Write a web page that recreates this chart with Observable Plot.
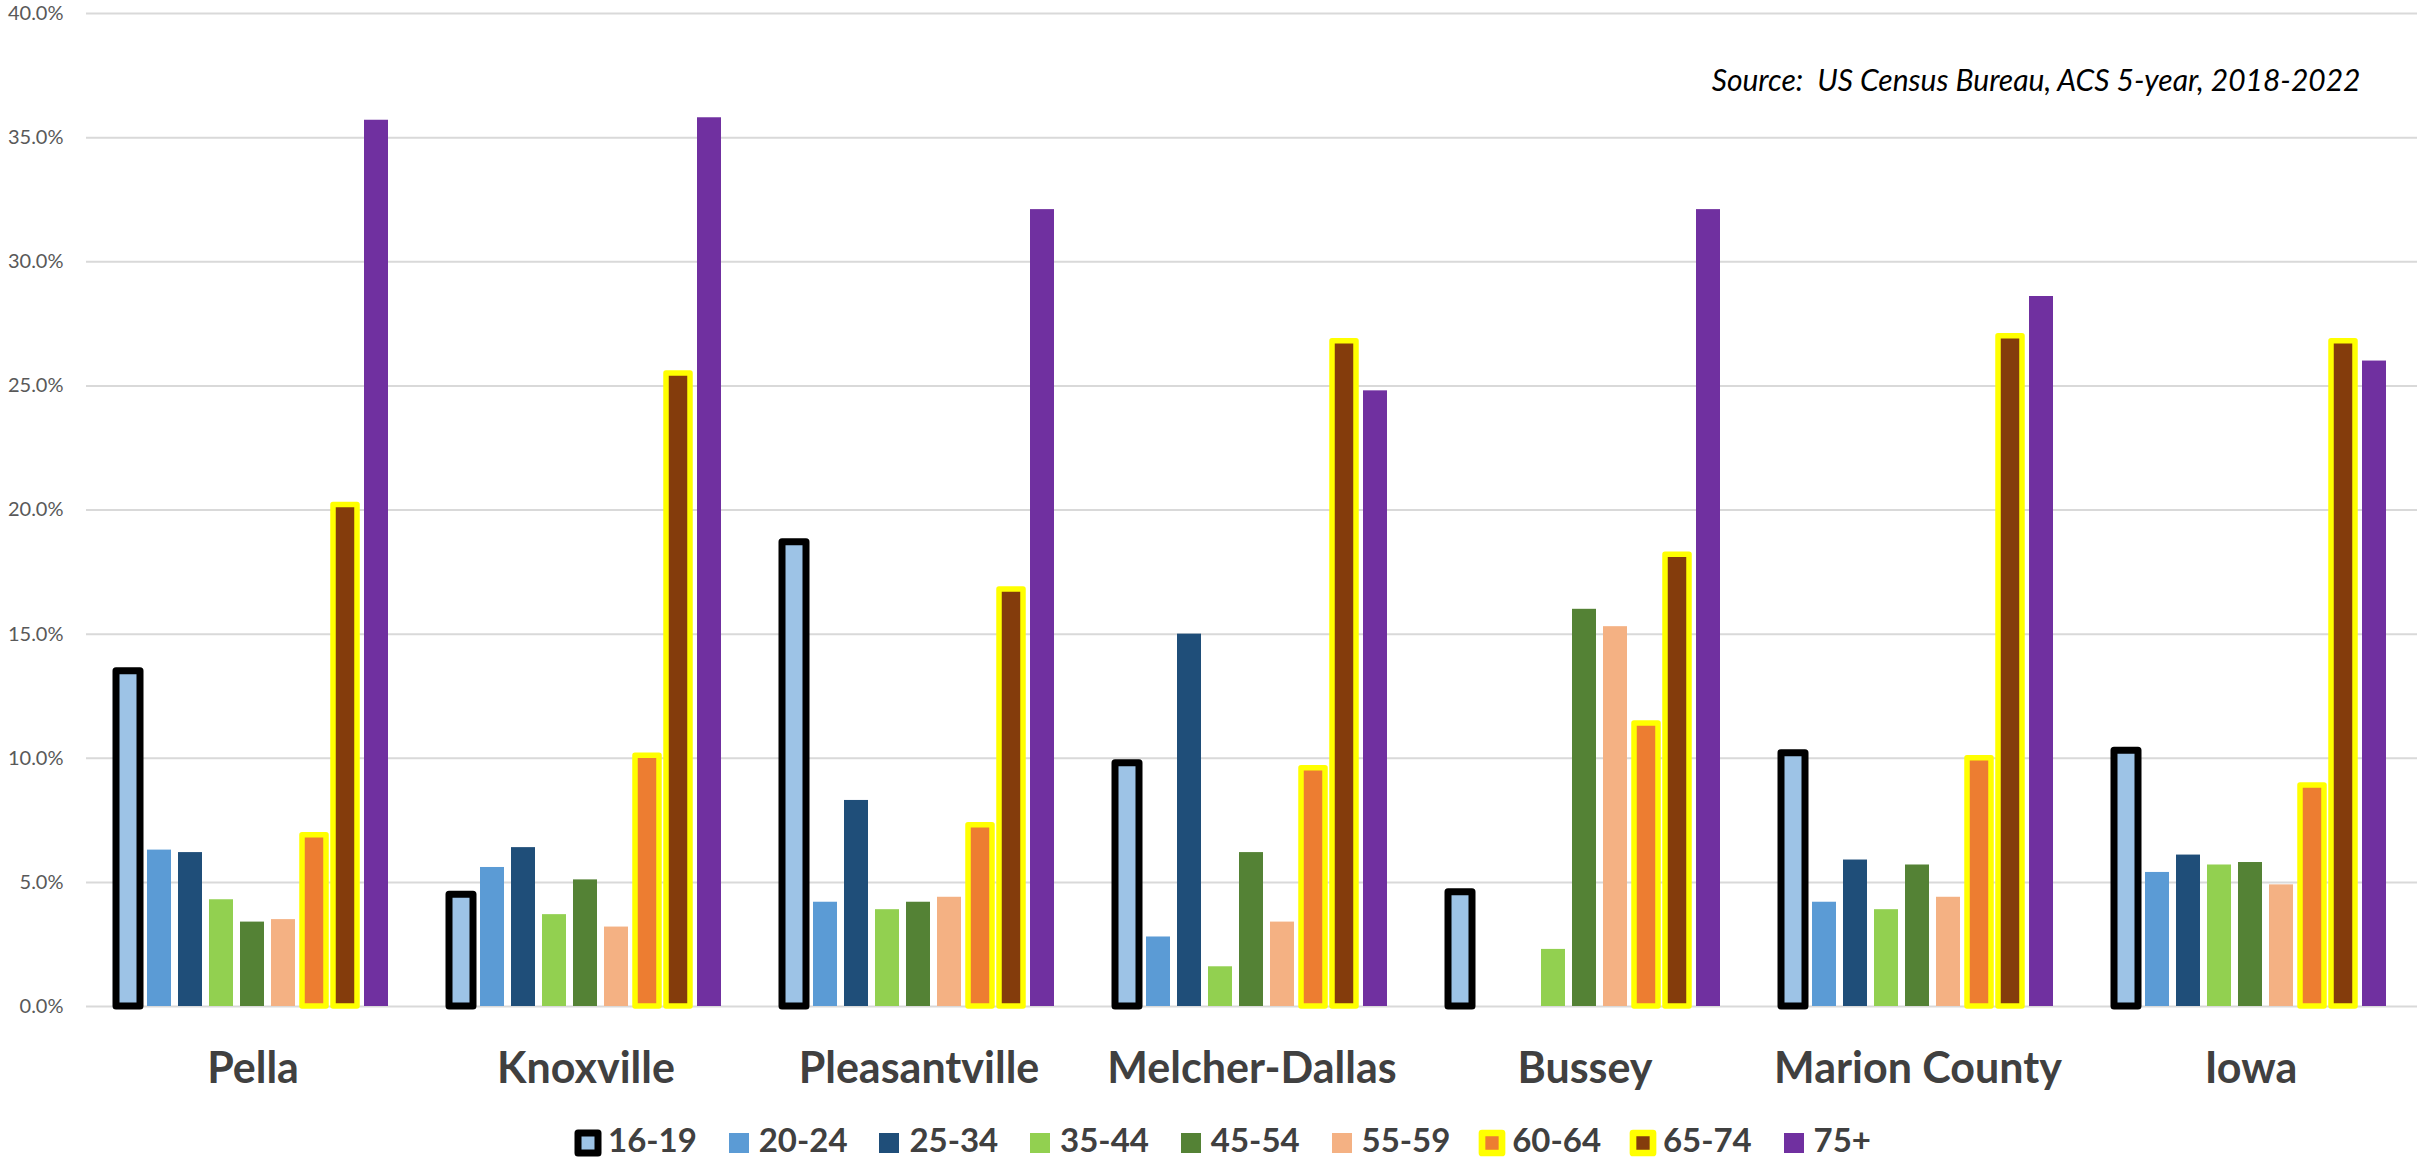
<!DOCTYPE html>
<html>
<head>
<meta charset="utf-8">
<script src="https://cdn.jsdelivr.net/npm/d3@7"></script>
<script src="https://cdn.jsdelivr.net/npm/@observablehq/plot@0.6"></script>
<style>
  html, body { margin: 0; padding: 0; background: #fff; overflow: hidden; }
  #wrap { position: relative; width: 2417px; height: 1163px; font-family: Lato, "Open Sans", sans-serif; }
  #legend { position: absolute; left: 0; top: 1100px; width: 2417px; height: 63px; }
  .item { position: absolute; top: 0; height: 63px; }
  .item svg { position: absolute; left: 0; top: 33px; overflow: visible; }
  .item span { position: absolute; left: 30px; top: 19px; font-weight: bold; font-size: 33px; color: #404040; white-space: nowrap; line-height: 40px; }
</style>
</head>
<body>
<div id="wrap"><div id="chart"></div><div id="legend"></div></div>
<script>
const cities = ["Pella", "Knoxville", "Pleasantville", "Melcher-Dallas", "Bussey", "Marion County", "Iowa"];
const ages = ["16-19", "20-24", "25-34", "35-44", "45-54", "55-59", "60-64", "65-74", "75+"];
const colors = ["#9dc3e6", "#5b9bd5", "#1f4e79", "#92d050", "#548235", "#f4b183", "#ed7d31", "#843c0c", "#7030a0"];
const outlineColors = ["#000000", null, null, null, null, null, "#ffff00", "#ffff00", null];

const v16_19 = [13.5, 4.5, 18.7, 9.8, 4.6, 10.2, 10.3];
const v20_24 = [6.3, 5.6, 4.2, 2.8, 0, 4.2, 5.4];
const v25_34 = [6.2, 6.4, 8.3, 15.0, 0, 5.9, 6.1];
const v35_44 = [4.3, 3.7, 3.9, 1.6, 2.3, 3.9, 5.7];
const v45_54 = [3.4, 5.1, 4.2, 6.2, 16.0, 5.7, 5.8];
const v55_59 = [3.5, 3.2, 4.4, 3.4, 15.3, 4.4, 4.9];
const v60_64 = [6.9, 10.1, 7.3, 9.6, 11.4, 10.0, 8.9];
const v65_74 = [20.2, 25.5, 16.8, 26.8, 18.2, 27.0, 26.8];
const v75p   = [35.7, 35.8, 32.1, 24.8, 32.1, 28.6, 26.0];

const yTicks = [0, 5, 10, 15, 20, 25, 30, 35, 40];
const sourceNote = "Source:\u00a0 US Census Bureau, ACS 5-year, 2018-2022";

const series = [v16_19, v20_24, v25_34, v35_44, v45_54, v55_59, v60_64, v65_74, v75p];
const data = [];
cities.forEach((c, ci) => ages.forEach((a, ai) => data.push({city: c, age: a, value: series[ai][ci]})));

const blackAges = ages.filter((a, i) => outlineColors[i] === "#000000");
const yellowAges = ages.filter((a, i) => outlineColors[i] === "#ffff00");

const chart = Plot.plot({
  width: 2417,
  height: 1100,
  marginLeft: 85,
  marginRight: 0,
  marginTop: 13,
  marginBottom: 94,
  style: {fontFamily: "Lato, 'Open Sans', sans-serif", background: "#fff", overflow: "visible"},
  fx: {domain: cities, paddingInner: 0, paddingOuter: 0, label: null},
  x: {domain: ages, paddingInner: 0.21, paddingOuter: 0.86, axis: null},
  y: {domain: [0, 40], label: null, axis: null},
  color: {domain: ages, range: colors},
  marks: [
    Plot.gridY(yTicks, {stroke: "#d9d9d9", strokeWidth: 2, strokeOpacity: 1}),
    Plot.axisY(yTicks, {tickSize: 0, tickPadding: 23, tickFormat: d => d.toFixed(1) + "%", fontSize: 20, fill: "#595959", label: null}),
    Plot.axisFx({anchor: "bottom", tickSize: 0, tickPadding: 46, fontSize: 43, fontWeight: "bold", fill: "#404040", label: null}),
    Plot.barY(data.filter(d => outlineColors[ages.indexOf(d.age)] === null), {fx: "city", x: "age", y: "value", fill: "age"}),
    Plot.barY(data.filter(d => blackAges.includes(d.age)), {fx: "city", x: "age", y: "value", fill: "age", stroke: "#000000", strokeWidth: 7, strokeLinejoin: "round"}),
    Plot.barY(data.filter(d => yellowAges.includes(d.age)), {fx: "city", x: "age", y: "value", fill: "age", stroke: "#ffff00", strokeWidth: 5.5, strokeLinejoin: "round"}),
    Plot.text([sourceNote], {fx: () => cities[cities.length - 1], text: d => d, frameAnchor: "top-right", dx: -57, dy: 68, textAnchor: "end", lineAnchor: "middle", fontSize: 30, fontStyle: "italic", fill: "#000"})
  ]
});
document.getElementById("chart").appendChild(chart);

const legend = document.getElementById("legend");
ages.forEach((a, i) => {
  const item = document.createElement("div");
  item.className = "item";
  item.style.left = (578 + 150.7 * i) + "px";
  const oc = outlineColors[i];
  const sw = oc === "#000000" ? 7 : 6.7;
  item.innerHTML = `<svg width="20" height="20"><rect x="0" y="0" width="20" height="20" fill="${colors[i]}" ${oc ? `stroke="${oc}" stroke-width="${sw}" stroke-linejoin="round"` : ""}></rect></svg><span>${a}</span>`;
  legend.appendChild(item);
});
</script>
</body>
</html>
